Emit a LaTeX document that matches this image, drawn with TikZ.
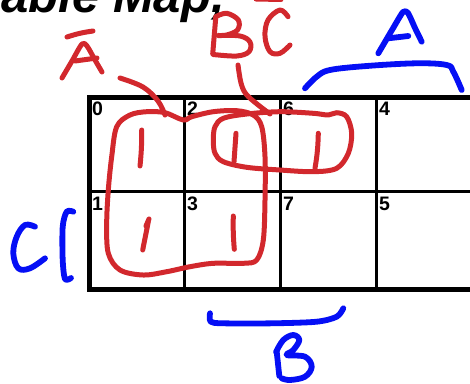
\documentclass[tikz,border=0pt]{standalone}
\usepackage{fontspec}
\setmainfont{Liberation Sans}
\definecolor{ink}{RGB}{210,40,45}
\definecolor{pen}{RGB}{5,15,245}
\begin{document}
\begin{tikzpicture}[x=1pt,y=-1pt,
  redpen/.style={draw=ink,line width=5pt,line cap=round,line join=round},
  bluepen/.style={draw=pen,line width=5.8pt,line cap=round,line join=round},
  num/.style={font=\bfseries\fontsize{19.5}{19.5}\selectfont, inner sep=0pt, anchor=north west},
  thinline/.style={line width=2.5pt},
  thickline/.style={line width=5pt}]
\useasboundingbox (0,0) rectangle (470,383);
% title (cut off at the top, as in the reference)
\node[anchor=base east, inner sep=0pt, font=\bfseries\itshape\fontsize{49}{52}\selectfont] (title) at (225,12.5) {able Map,};
% grid
\draw[line width=3pt] (89.5,191.5) -- (474,191.5);
\draw[thinline] (184.5,97.5) -- (184.5,289.5);
\draw[thinline] (280.5,97.5) -- (280.5,289.5);
\draw[thinline] (376.5,97.5) -- (376.5,289.5);
\draw[thickline] (89.5,97.5) rectangle (474,289.5);
% cell numbers
\node[num] (c0) at (92,101.5) {0};
\node[num] (c2) at (187,101.5) {2};
\node[num] (c6) at (283,101.5) {6};
\node[num] (c4) at (379,101.5) {4};
\node[num] (c1) at (92,196.5) {1};
\node[num] (c3) at (187,196.5) {3};
\node[num] (c7) at (283,196.5) {7};
\node[num] (c5) at (379,196.5) {5};
% red: A-bar label
\draw[redpen] (67,37) to[bend left=5] (93,31);
\draw[redpen] plot[smooth, tension=0.5] coordinates {(62,78) (72,61) (82,44) (87,46) (95,60) (102,72)};
\draw[redpen] (75,61) -- (97,58);
\draw[redpen] plot[smooth, tension=0.6] coordinates {(120,78) (143,87) (158,101) (165,115)};
% red: big loop
\draw[redpen] plot[smooth cycle, tension=0.55] coordinates {
  (130,115) (146.7,111.7) (165,112.7) (183.3,120) (191.7,116.7) (213.3,111.7)
  (236.7,110.7) (253.3,115) (261.7,126.7) (265,156.7) (265,200) (263.3,240)
  (256.7,260) (243.3,263.3) (213.3,263.3) (190,266.7) (166.7,271.7) (143.3,275)
  (120,270) (108.3,253.3) (106.7,223.3) (108.3,190) (111.7,156.7) (116.7,126.7)};
% red: BC loop
\draw[redpen] plot[smooth cycle, tension=0.55] coordinates {
  (213.3,140) (215,126.7) (223.3,118.3) (246.7,114) (280,111.7) (313.3,113.3)
  (328.3,115) (336.7,112.7) (346.7,116.7) (351.7,133.3) (348.3,153.3) (336.7,168.3)
  (313.3,171.7) (280,170) (246.7,167.3) (223.3,161.7) (215,153.3)};
% red: BC label and connector
\draw[redpen] plot[smooth, tension=0.6] coordinates {(238,65) (241,83) (246,94) (257,104) (270,114)};
\draw[redpen] (215.7,18) -- (212.7,54);
\draw[redpen] plot[smooth, tension=0.6] coordinates {(215.7,16.7) (226.7,13.3) (238.3,20) (237.5,30) (226.7,35) (218.3,35.5) (240,36) (250,42) (249,51.7) (236.7,56) (213.3,54.5)};
\draw[redpen] plot[smooth, tension=0.6] coordinates {(288,16.7) (280,10) (268,20) (265,36.7) (270,51.7) (280,53.3) (290,45)};
\draw[redpen] (256,-1) -- (281,-0.5);
% red: ones
\draw[redpen] (141.7,130) to[bend left=3] (140,166);
\draw[redpen] (148.3,221.7) -- (142.7,250);
\draw[redpen] (149,219) -- (146,226);
\draw[redpen] (236,133.3) -- (234,161.7);
\draw[redpen] (233.3,216) to[bend right=3] (234.3,249.3);
\draw[redpen] (318.3,133.3) to[bend left=4] (315,168.3);
% blue: A with bracket
\draw[bluepen] plot[smooth, tension=0.4] coordinates {(378.3,53.3) (392,30) (403,12) (408,13) (415,28) (421.7,41.7)};
\draw[bluepen] (388.3,38.3) -- (408.3,36);
\draw[bluepen] plot[smooth, tension=0.6] coordinates {(305,88.3) (316.7,76.7) (330,70) (366.7,66) (416.7,63.3) (446.7,65) (453.3,71.7) (461.7,90)};
% blue: C with bracket
\draw[bluepen] plot[smooth, tension=0.6] coordinates {(35,226.7) (25,225) (16.7,236.7) (13.3,253.3) (18.3,268.3) (30,268.3) (45,258.3)};
\draw[bluepen] plot[smooth, tension=0.5] coordinates {(73.3,211.7) (66.7,211.7) (62.7,226.7) (62.7,260) (65,279) (71,278)};
% blue: B with bracket
\draw[bluepen] plot[smooth, tension=0.5] coordinates {(210,313.3) (210.7,321.7) (223.3,323.3) (273.3,323.3) (316.7,321.7) (336.7,316.7) (343.3,308.3)};
\draw[bluepen] (276.7,351.7) -- (279.3,376);
\draw[bluepen] plot[smooth, tension=0.6] coordinates {(276,352) (283.3,340) (293.3,335) (299.3,340) (293.3,350) (286.7,355) (305,356.7) (311.7,366.7) (305,376.7) (290,380) (281.7,378.3)};
\end{tikzpicture}
\end{document}
